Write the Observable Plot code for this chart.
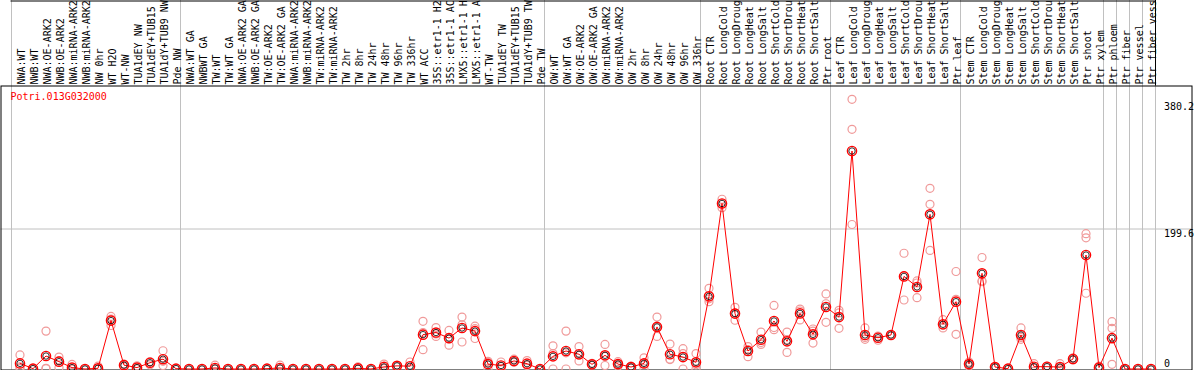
<!DOCTYPE html>
<html><head><meta charset="utf-8">
<script src="https://cdn.jsdelivr.net/npm/d3@7"></script>
<script src="https://cdn.jsdelivr.net/npm/@observablehq/plot@0.6"></script>
<style>html,body{margin:0;padding:0;background:#fff;} #chart svg{display:block}</style>
</head><body><div id="chart"></div>
<script>
const title = "Potri.013G032000";
const labels = ["NWA:WT","NWB:WT","NWA:OE-ARK2","NWB:OE-ARK2","NWA:miRNA-ARK2","NWB:miRNA-ARK2","NW 0hr","WT H2O","WT-NW","TUA1dEY NW","TUA1dEY+TUB15","TUA1dY+TUB9 NW","Pde NW",
"NWA:WT GA","NWBWT GA","TW:WT","TW:WT GA","NWA:OE-ARK2 GA","NWB:OE-ARK2 GA","TW:OE-ARK2","TW:OE-ARK2 GA","NWA:miRNA-ARK2","NWB:miRNA-ARK2","TW:miRNA-ARK2","TW:miRNA-ARK2","TW 2hr","TW 8hr","TW 24hr","TW 48hr","TW 96hr","TW 336hr","WT ACC","35S::etr1-1 H2","35S::etr1-1 AC","LMX5::etr1-1 H","LMX5::etr1-1 A","WT-TW","TUA1dEY TW","TUA1dEY+TUB15","TUA1dY+TUB9 TW","Pde TW",
"OW:WT","OW:WT GA","OW:OE-ARK2","OW:OE-ARK2 GA","OW:miRNA-ARK2","OW:miRNA-ARK2","OW 2hr","OW 8hr","OW 24hr","OW 48hr","OW 96hr","OW 336hr",
"Root CTR","Root LongCold","Root LongDroug","Root LongHeat","Root LongSalt","Root ShortCold","Root ShortDrou","Root ShortHeat","Root ShortSalt","Ptr root",
"Leaf CTR","Leaf LongCold","Leaf LongDroug","Leaf LongHeat","Leaf LongSalt","Leaf ShortCold","Leaf ShortDrou","Leaf ShortHeat","Leaf ShortSalt","Ptr leaf",
"Stem CTR","Stem LongCold","Stem LongDroug","Stem LongHeat","Stem LongSalt","Stem ShortCold","Stem ShortDrou","Stem ShortHeat","Stem ShortSalt","Ptr shoot",
"Ptr xylem","Ptr phloem","Ptr fiber","Ptr vessel","Ptr fiber vess"];
const means = [8,0.5,18.5,10.5,2,0,1,69,5.5,2,9,14,0.5,
0,0,1.5,0,0,0,0.5,1.5,0,0,0,0,0,1,0,3,4.5,4,49,52,44,58.5,54,7,5,11.5,7.6,0,
18,25.7,21,6.6,19.5,7,2.8,8,60,21,17,9.5,
103.6,236,79,25.7,41.8,68.5,39.4,79.3,49.4,88.5,
74,310.8,48.5,44.6,48.5,132,117,220.5,63.7,96,
7,136.4,2.8,0.5,48.5,3.3,3.3,2.8,14.3,162.5,
2,44,0,0,0];
const rep1 = [20,1,54,17,6.5,0,4,75,7,4.5,10.5,26,0.5,
0,0,5.5,0,0,0,1,5.5,0,0,0,0,0,3,0,7,5,10,68,59,55,74,61,11,10,14,12,0,
33,54,32,8,35,10.5,4,16,74,35.5,29,22,
115,242,88,32,52.7,90.7,52.7,85.5,57,107,
83.6,384.5,58.5,47,49,165,125.5,257.6,70.3,139,
10,159,3,1,58.5,7.6,4,7.6,16,193,
4,67.5,0,0,0];
const rep2 = [3,0.5,1,12,0,0,0,71,6,1,10,11,0.5,
0,0,0,0,0,0,0.5,0,0,0,0,0,0,0,0,1,4.5,1,52,50,43,63,57.5,9.5,4,11,6,0,
22,23,19.5,6,18,7,3,8,60,14,22,6,
100,236,80,27.5,37.7,59,42,82.7,54,93,
80,341.7,45,46,48.5,133,122.6,234.8,62.3,99.3,
7,125.5,3,0.5,45,1.5,3,0.5,14,187,
1.5,58,0,0,0];
const rep3 = [1,0,0.5,2,0,0,0,62,3,0.5,6,5,0,
0,0,0,0,0,0,0,0,0,0,0,0,0,0,0,1,4,1,27.5,46.5,34,38.5,43.5,0.5,1,9.5,5,0,
0,0,11.5,6,5,4,1.5,0.5,46.5,13.5,0,0,
96,230,69.5,17.6,35,56,23.7,70,37,66.6,
58,206,42.3,41,48,98.4,101.7,169,58.5,49.4,
3.8,124.5,2.5,0,42.3,1,3,0.5,13,108,
0.5,6.6,0,0,0];
const groupStarts = [0,13,41,53,63,73,84,85,86,87,88];
const gridValues = [199.6];
const yTicksTop = [380.2, 199.6];
const yTicksBottom = [0];

const pts = labels.map((label, i) => ({i, label, mean: means[i]}));
const reps = [rep1, rep2, rep3].flatMap(r => r.map((v, i) => ({i, v})));
const font = "'DejaVu Sans Mono', monospace";

const plot = Plot.plot({
  width: 1194, height: 370,
  marginTop: 85.5, marginLeft: 0.5, marginRight: 2.5, marginBottom: 0.5,
  x: {type: "linear", domain: [0, 87], range: [19.5, 1150.5], axis: null},
  y: {type: "linear", domain: [0, 199.6], range: [368.5, 228.5], axis: null},
  style: {fontFamily: font, fontSize: "10px", background: "white", overflow: "visible"},
  marks: [
    Plot.ruleX(groupStarts, {x: d => d, dx: -8.5, stroke: "#c0c0c0", strokeWidth: 1, insetTop: -85.5}),
    Plot.ruleX([groupStarts[groupStarts.length - 1]], {x: d => d, dx: -8.5, stroke: "black", insetTop: -85.5, insetBottom: 284}),
    Plot.ruleY([0], {y: d => d, dy: -368, stroke: "black", insetLeft: 10, insetRight: 36}),
    Plot.ruleY(gridValues, {y: d => d, stroke: "#c0c0c0"}),
    Plot.frame({stroke: "black"}),
    Plot.text(pts, {x: "i", text: "label", frameAnchor: "top", dy: -1.5, dx: -2, rotate: -90, textAnchor: "start", fontSize: 10, fontFamily: font, fill: "black"}),
    Plot.text([title], {text: d => d, frameAnchor: "top-left", dx: 9.5, dy: 7, lineAnchor: "top", textAnchor: "start", fill: "red", fontSize: 10, fontFamily: font}),
    Plot.text(yTicksTop, {y: d => d, text: d => String(d), frameAnchor: "right", dx: -28, dy: 1, lineAnchor: "top", textAnchor: "start", fill: "black", fontSize: 10, fontFamily: font}),
    Plot.text(yTicksBottom, {y: d => d, text: d => String(d), frameAnchor: "right", dx: -28, dy: -2, lineAnchor: "bottom", textAnchor: "start", fill: "black", fontSize: 10, fontFamily: font}),
    Plot.dot(reps, {x: "i", y: "v", r: 4, stroke: "#f09a9a", strokeWidth: 1.2, fill: "none"}),
    Plot.line(pts, {x: "i", y: "mean", stroke: "red", strokeWidth: 1}),
    Plot.dot(pts, {x: "i", y: "mean", r: 4.6, stroke: "red", strokeWidth: 1.4, fill: "none"}),
    Plot.dot(pts, {x: "i", y: "mean", r: 3.2, stroke: "black", strokeWidth: 0.8, fill: "none"})
  ]
});
document.getElementById("chart").appendChild(plot);
</script>
</body></html>
